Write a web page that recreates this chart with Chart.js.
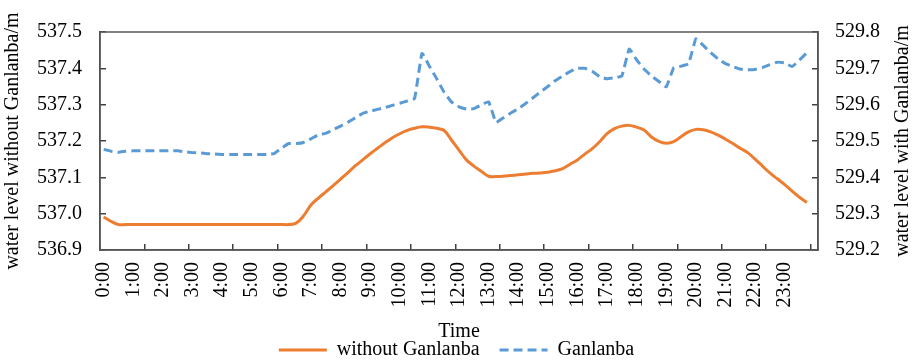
<!DOCTYPE html>
<html lang="en">
<head>
  <meta charset="UTF-8" />
  <title>Water level with and without Ganlanba</title>
  <script src="https://cdn.jsdelivr.net/npm/chart.js"></script>
  <style>
    html, body { margin: 0; padding: 0; background: #fff; }
    #wrap { width: 913px; height: 360px; position: relative; }
  </style>
</head>
<body>
  <div id="wrap"><canvas id="levelChart"></canvas></div>

  <script>
    // 15-minute categories from 0:00 to 24:00 (97 slots, data fills the first 96)
    const times = [];
    for (let h = 0; h <= 24; h++) {
      for (const m of ['00', '15', '30', '45']) {
        if (h === 24 && m !== '00') break;
        times.push(h + ':' + m);
      }
    }

    const withoutGanlanba = [
      536.991, 536.979, 536.970, 536.970, 536.970, 536.970, 536.970, 536.970,
      536.970, 536.970, 536.970, 536.970, 536.970, 536.970, 536.970, 536.970,
      536.970, 536.970, 536.970, 536.970, 536.970, 536.970, 536.970, 536.970,
      536.970, 536.970, 536.974, 536.994, 537.024, 537.043, 537.060, 537.077,
      537.095, 537.113, 537.132, 537.148, 537.165, 537.180, 537.195, 537.209,
      537.220, 537.229, 537.235, 537.239, 537.238, 537.235, 537.229, 537.202,
      537.175, 537.148, 537.131, 537.117, 537.103, 537.102, 537.103, 537.105,
      537.107, 537.109, 537.111, 537.112, 537.114, 537.118, 537.124, 537.136,
      537.148, 537.164, 537.179, 537.198, 537.220, 537.234, 537.241, 537.243,
      537.238, 537.230, 537.211, 537.199, 537.194, 537.198, 537.212, 537.225,
      537.232, 537.231, 537.225, 537.216, 537.205, 537.193, 537.180, 537.168,
      537.150, 537.131, 537.112, 537.096, 537.080, 537.062, 537.045, 537.031
    ];

    const ganlanba = [
      529.477, 529.472, 529.469, 529.472, 529.473, 529.473, 529.473, 529.473,
      529.473, 529.473, 529.473, 529.470, 529.468, 529.467, 529.465, 529.464,
      529.463, 529.463, 529.463, 529.463, 529.463, 529.463, 529.463, 529.465,
      529.480, 529.493, 529.493, 529.496, 529.506, 529.517, 529.521, 529.531,
      529.541, 529.552, 529.564, 529.576, 529.582, 529.587, 529.592, 529.598,
      529.604, 529.610, 529.617, 529.741, 529.706, 529.671, 529.634, 529.607,
      529.594, 529.588, 529.589, 529.599, 529.608, 529.551, 529.564, 529.577,
      529.589, 529.603, 529.619, 529.635, 529.650, 529.666, 529.679, 529.691,
      529.700, 529.700, 529.692, 529.677, 529.671, 529.674, 529.679, 529.753,
      529.723, 529.698, 529.679, 529.664, 529.649, 529.701, 529.706, 529.712,
      529.781, 529.763, 529.743, 529.726, 529.713, 529.705, 529.698, 529.696,
      529.697, 529.702, 529.710, 529.717, 529.715, 529.705, 529.723, 529.743
    ];

    const FONT = "'Liberation Serif', 'Times New Roman', serif";
    const AXIS = '#404040';

    // frame round the plot area + right axis title read bottom-to-top
    const framePlugin = {
      id: 'frame',
      afterDraw(chart) {
        const { ctx, chartArea: a } = chart;
        ctx.save();
        ctx.strokeStyle = '#595959';
        ctx.lineWidth = 1.5;
        ctx.strokeRect(a.left, a.top, a.right - a.left, a.bottom - a.top);
        const t = chart.options.scales.y1.title;
        ctx.fillStyle = '#000';
        ctx.font = '20px ' + FONT;
        ctx.textAlign = 'center';
        ctx.textBaseline = 'middle';
        ctx.translate(903, (a.top + a.bottom) / 2);
        ctx.rotate(-Math.PI / 2);
        ctx.fillText(t.text, 0, 0);
        ctx.restore();
      }
    };

    new Chart(document.getElementById('levelChart'), {
      type: 'line',
      data: {
        labels: times,
        datasets: [
          {
            label: 'without Ganlanba',
            data: withoutGanlanba,
            borderColor: '#ED7D31',
            backgroundColor: '#ED7D31',
            borderWidth: 3,
            pointRadius: 0,
            tension: 0.35,
            yAxisID: 'y'
          },
          {
            label: 'Ganlanba',
            data: ganlanba,
            borderColor: '#5B9BD5',
            backgroundColor: '#5B9BD5',
            borderWidth: 3,
            borderDash: [9, 5],
            pointRadius: 0,
            tension: 0.1,
            yAxisID: 'y1'
          }
        ]
      },
      options: {
        responsive: true,
        maintainAspectRatio: false,
        animation: false,
        layout: { padding: { top: 8, bottom: -10, left: 0, right: 0 } },
        plugins: {
          legend: {
            position: 'bottom',
            labels: {
              color: '#000',
              font: { family: FONT, size: 20 },
              usePointStyle: true,
              pointStyle: 'line',
              pointStyleWidth: 48,
              padding: 20,
              generateLabels(chart) {
                const items = Chart.defaults.plugins.legend.labels.generateLabels(chart);
                items.forEach(it => {
                  const ds = chart.data.datasets[it.datasetIndex];
                  it.lineDash = ds.borderDash || [];
                  it.lineWidth = 3;
                  it.strokeStyle = ds.borderColor;
                });
                return items;
              }
            }
          },
          tooltip: { enabled: false }
        },
        scales: {
          x: {
            type: 'category',
            offset: true,
            afterFit(scale) { scale.height = 70; },
            border: { color: AXIS, width: 1.5 },
            grid: {
              offset: true,
              drawOnChartArea: false,
              drawTicks: true,
              tickLength: -6,
              lineWidth: 1.5,
              color: c => (c.index % 6 === 0 ? AXIS : 'rgba(0,0,0,0)'),
              tickColor: c => (c.index % 6 === 0 ? AXIS : 'rgba(0,0,0,0)')
            },
            ticks: {
              autoSkip: false,
              minRotation: 90,
              maxRotation: 90,
              padding: 18,
              color: '#000',
              font: { family: FONT, size: 20 },
              callback: (v, i) => (i % 4 === 0 && i < 96 ? times[i] : '')
            },
            title: {
              display: true,
              text: 'Time',
              color: '#000',
              font: { family: FONT, size: 20, lineHeight: 1 },
              padding: { top: 0, bottom: -22 }
            }
          },
          y: {
            position: 'left',
            min: 536.9,
            max: 537.5,
            afterFit(scale) { scale.width = 100; },
            border: { color: AXIS, width: 1.5 },
            grid: { drawOnChartArea: false, tickLength: -6, color: AXIS, lineWidth: 1.5 },
            ticks: {
              stepSize: 0.1,
              padding: 24,
              color: '#000',
              font: { family: FONT, size: 20, lineHeight: 0.8 },
              callback: v => Number(v).toFixed(1)
            },
            title: {
              display: true,
              text: 'water level without Ganlanba/m',
              color: '#000',
              font: { family: FONT, size: 20, lineHeight: 1 },
              padding: { top: 3, bottom: 0 }
            }
          },
          y1: {
            position: 'right',
            min: 529.2,
            max: 529.8,
            afterFit(scale) { scale.width = 95; },
            border: { color: AXIS, width: 1.5 },
            grid: { drawOnChartArea: false, tickLength: -6, color: AXIS, lineWidth: 1.5 },
            ticks: {
              stepSize: 0.1,
              padding: 23,
              color: '#000',
              font: { family: FONT, size: 20, lineHeight: 0.8 },
              callback: v => Number(v).toFixed(1)
            },
            title: {
              display: false,
              text: 'water level with Ganlanba/m'
            }
          }
        }
      },
      plugins: [framePlugin]
    });
  </script>
</body>
</html>
